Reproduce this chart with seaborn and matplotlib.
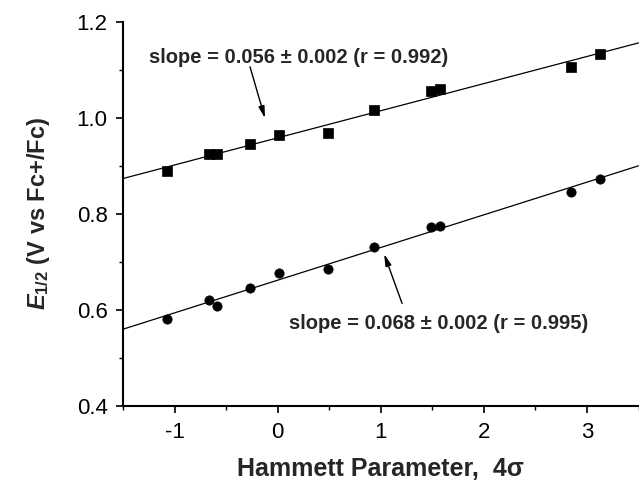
import matplotlib
matplotlib.use("Agg")
import matplotlib.pyplot as plt
import seaborn as sns
import numpy as np
import pandas as pd

# Hammett parameter (4 sigma) values
hammett_sq = [-1.07, -0.67, -0.59, -0.27, 0.01, 0.49, 0.93, 1.49, 1.57, 2.85, 3.13]
e_half_sq = [0.888, 0.924, 0.925, 0.945, 0.963, 0.968, 1.016, 1.056, 1.059, 1.106, 1.133]

hammett_ci = [-1.07, -0.67, -0.59, -0.27, 0.01, 0.49, 0.93, 1.49, 1.57, 2.85, 3.13]
e_half_ci = [0.581, 0.621, 0.608, 0.646, 0.676, 0.684, 0.731, 0.773, 0.775, 0.845, 0.872]

label_top = "slope = 0.056 \u00b1 0.002 (r = 0.992)"
label_bot = "slope = 0.068 \u00b1 0.002 (r = 0.995)"

x_ticks = [-1, 0, 1, 2, 3]
y_ticks = [0.4, 0.6, 0.8, 1.0, 1.2]

sns.set_style("ticks")
plt.rcParams['font.family'] = ['Liberation Sans', 'DejaVu Sans']
plt.rcParams['mathtext.fontset'] = 'custom'
plt.rcParams['mathtext.rm'] = 'Liberation Sans:bold'
plt.rcParams['mathtext.it'] = 'Liberation Sans:bold:italic'
plt.rcParams['mathtext.bf'] = 'Liberation Sans:bold'

fig = plt.figure(figsize=(6.39, 4.83), dpi=100)
ax = fig.add_axes([123 / 639, 1 - 405.7 / 483, (638.5 - 123) / 639, (405.7 - 21.7) / 483])
ax.set_xlim(-1.5, 3.5)
ax.set_ylim(0.4, 1.2)

df_sq = pd.DataFrame({"x": hammett_sq, "y": e_half_sq})
df_ci = pd.DataFrame({"x": hammett_ci, "y": e_half_ci})

for df, mk in [(df_sq, "s"), (df_ci, "o")]:
    sns.regplot(data=df, x="x", y="y", ax=ax, scatter=False, ci=None,
                truncate=False, color="black", line_kws={"lw": 0.9})
    sns.scatterplot(data=df, x="x", y="y", ax=ax, marker=mk, color="black",
                    s=45, edgecolor="black", linewidth=0.5, zorder=3)

ax.set_xlim(-1.5, 3.5)
ax.set_ylim(0.4, 1.2)

ax.set_xticks(x_ticks)
ax.set_yticks(y_ticks)
ax.set_xticks(np.arange(-1.5, 3.51, 0.5), minor=True)
ax.set_yticks(np.arange(0.4, 1.21, 0.1), minor=True)
ax.set_xticklabels([str(t) for t in x_ticks])
ax.set_yticklabels([f"{t:.1f}" for t in y_ticks])
ax.tick_params(axis="both", which="major", direction="out", length=5, width=1.2,
               labelsize=16, color="black", labelcolor="black")
ax.tick_params(axis="x", which="major", pad=7)
ax.tick_params(axis="y", which="major", pad=6)
ax.tick_params(axis="both", which="minor", direction="out", length=3, width=1.0, color="black")

for side in ["left", "bottom"]:
    ax.spines[side].set_linewidth(1.5)
    ax.spines[side].set_color("black")
sns.despine(ax=ax)

ax.set_xlabel("Hammett Parameter,  4\u03c3", fontsize=18, fontweight="bold", labelpad=10)
ax.set_ylabel(r"$\it{E}_{\rm 1/2}$ (V vs Fc+/Fc)", fontsize=17, fontweight="bold", labelpad=18)

ax.text(0.208, 1.126, label_top, ha="center", va="center", fontsize=14.5, fontweight="bold")
ax.text(1.559, 0.572, label_bot, ha="center", va="center", fontsize=14.5, fontweight="bold")

arrow_kw = dict(arrowstyle="-|>,head_length=0.7,head_width=0.18", color="black", lw=1.0,
                shrinkA=0, shrinkB=0)
ax.annotate("", xy=(-0.123, 0.999), xytext=(-0.268, 1.106), arrowprops=arrow_kw)
ax.annotate("", xy=(1.033, 0.716), xytext=(1.207, 0.613), arrowprops=arrow_kw)

fig.savefig("out.png", dpi=100)
